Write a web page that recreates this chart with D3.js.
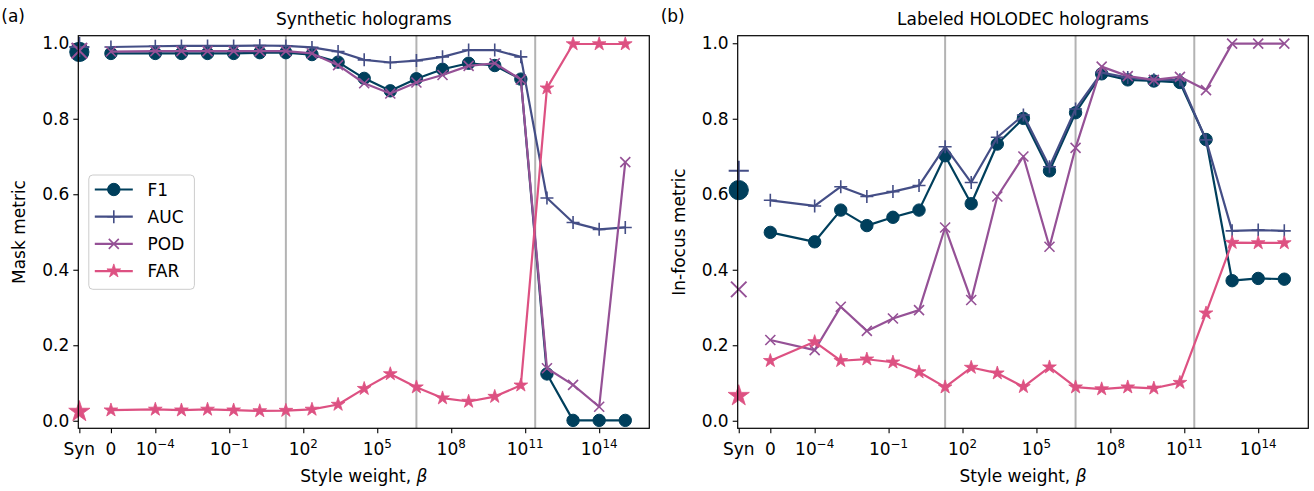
<!DOCTYPE html>
<html>
<head>
<meta charset="utf-8">
<script src="https://cdn.jsdelivr.net/npm/d3@7"></script>
<style>
  html, body { margin: 0; padding: 0; background: #fff; }
  svg { display: block; font-family: "DejaVu Sans", sans-serif; }
</style>
</head>
<body>
<svg id="chart" width="1314" height="491"></svg>
<script>
// ---------- data ----------
const betaCategories = ["0", "1e-4", "1e-3", "1e-2", "1e-1", "1e0", "1e1", "1e2", "1e3", "1e4",
  "1e5", "1e6", "1e7", "1e8", "1e9", "1e10", "1e11", "1e12", "1e13", "1e14"];
const seriesNames = ["F1", "AUC", "POD", "FAR"];
const seriesColors = ["#003f5c", "#444e86", "#955196", "#dd5182"];
const tickExponents = [-4, -1, 2, 5, 8, 11, 14];
const yTicks = [0.0, 0.2, 0.4, 0.6, 0.8, 1.0];

// Panel (a): synthetic holograms
const synA = { F1: 0.977, AUC: 0.990, POD: 0.980, FAR: 0.024 };
const a_F1  = [0.973, 0.973, 0.973, 0.973, 0.973, 0.975, 0.975, 0.970, 0.950, 0.907, 0.874, 0.906, 0.931, 0.947, 0.941, 0.905, 0.124, 0.001, 0.001, 0.001];
const a_AUC = [0.990, 0.992, 0.993, 0.993, 0.993, 0.994, 0.993, 0.989, 0.978, 0.956, 0.949, 0.954, 0.964, 0.982, 0.982, 0.964, 0.590, 0.525, 0.507, 0.512];
const a_POD = [0.978, 0.979, 0.979, 0.979, 0.979, 0.979, 0.979, 0.973, 0.942, 0.894, 0.867, 0.896, 0.916, 0.940, 0.947, 0.904, 0.139, 0.095, 0.037, 0.685];
const a_FAR = [0.028, 0.030, 0.028, 0.030, 0.028, 0.026, 0.027, 0.030, 0.043, 0.085, 0.124, 0.089, 0.060, 0.051, 0.064, 0.094, 0.881, 0.998, 0.998, 0.998];

// Panel (b): labeled HOLODEC holograms
const synB = { F1: 0.611, AUC: 0.662, POD: 0.348, FAR: 0.066 };
const b_F1  = [0.499, 0.474, 0.558, 0.517, 0.539, 0.558, 0.702, 0.575, 0.733, 0.801, 0.662, 0.816, 0.919, 0.903, 0.900, 0.896, 0.745, 0.371, 0.377, 0.375];
const b_AUC = [0.584, 0.569, 0.620, 0.594, 0.607, 0.623, 0.726, 0.631, 0.751, 0.810, 0.673, 0.826, 0.922, 0.909, 0.903, 0.903, 0.744, 0.503, 0.505, 0.503];
const b_POD = [0.214, 0.187, 0.302, 0.238, 0.271, 0.293, 0.512, 0.320, 0.594, 0.700, 0.461, 0.723, 0.938, 0.913, 0.903, 0.911, 0.876, 0.999, 0.999, 0.999];
const b_FAR = [0.159, 0.209, 0.159, 0.163, 0.155, 0.129, 0.089, 0.141, 0.126, 0.090, 0.142, 0.089, 0.084, 0.089, 0.086, 0.101, 0.285, 0.472, 0.471, 0.471];

// grey reference lines (in category-position units)
const refLinePositions = [6, 11, 15.55];

const panels = [
  { tag: "(a)", title: "Synthetic holograms", ylabel: "Mask metric",
    syn: synA, series: [a_F1, a_AUC, a_POD, a_FAR], legend: true,
    left: 78.3, right: 649.3 },
  { tag: "(b)", title: "Labeled HOLODEC holograms", ylabel: "In-focus metric",
    syn: synB, series: [b_F1, b_AUC, b_POD, b_FAR], legend: false,
    left: 737.7, right: 1308.3 }
];

// ---------- layout ----------
const TOP = 35.7, BOTTOM = 428.3;
const FONT = 17;
const SYN_POS = -1.91, ZERO_POS = -0.70;
const svg = d3.select("#chart");

// category index -> position
const catPos = i => (i === 0 ? ZERO_POS : i);
// tick label position for 10^k in the same units
const tickPosScale = d3.scaleLog().domain([1e-4, 1e14]).range([1, 18]);

function marker(g, type, color, scale) {
  const s = scale || 1;
  if (type === 0) {
    g.append("circle").attr("r", 6.2 * s).attr("fill", color).attr("stroke", color).attr("stroke-width", 1);
  } else if (type === 1) {
    const r = 6.5 * s;
    g.append("path").attr("d", `M${-r},0H${r}M0,${-r}V${r}`).attr("stroke", color)
      .attr("stroke-width", 1.6 * Math.sqrt(s)).attr("fill", "none");
  } else if (type === 2) {
    const r = 5.0 * s;
    g.append("path").attr("d", `M${-r},${-r}L${r},${r}M${-r},${r}L${r},${-r}`).attr("stroke", color)
      .attr("stroke-width", 1.6 * Math.sqrt(s)).attr("fill", "none");
  } else {
    const R = 7.2 * s;
    g.append("path").attr("d", d3.symbol(d3.symbolStar, R * R / 0.8908130915292852)())
      .attr("fill", color).attr("stroke", color).attr("stroke-width", 0.8).attr("stroke-linejoin", "round");
  }
}

function supLabel(sel, k) {
  sel.append("tspan").text("10");
  sel.append("tspan").text(k < 0 ? "\u2212" + Math.abs(k) : String(k))
    .attr("font-size", FONT * 0.7).attr("dy", -FONT * 0.42);
}

panels.forEach(p => {
  const x = d3.scaleLinear().domain([-1.95, 19.92]).range([p.left, p.right]);
  const y = d3.scaleLinear().domain([-0.02, 1.02]).range([BOTTOM, TOP]);
  const g = svg.append("g");

  // grey vertical lines
  g.selectAll("line.ref").data(refLinePositions).enter().append("line")
    .attr("x1", d => x(d)).attr("x2", d => x(d)).attr("y1", TOP).attr("y2", BOTTOM)
    .attr("stroke", "#b3b3b3").attr("stroke-width", 2);

  // y axis
  const yAxis = d3.axisLeft(y).tickValues(yTicks).tickFormat(d3.format(".1f")).tickSize(5).tickPadding(4);
  const ya = g.append("g").attr("transform", `translate(${p.left},0)`).call(yAxis);
  ya.select(".domain").remove();
  ya.selectAll("text").attr("font-size", FONT).attr("font-family", "DejaVu Sans").attr("fill", "#000");
  ya.selectAll("line").attr("stroke", "#000").attr("stroke-width", 1.1);

  // x axis ticks
  const xTickVals = [SYN_POS, ZERO_POS].concat(tickExponents.map(k => tickPosScale(Math.pow(10, k))));
  const xAxis = d3.axisBottom(x).tickValues(xTickVals).tickSize(5).tickFormat(() => "");
  const xa = g.append("g").attr("transform", `translate(0,${BOTTOM})`).call(xAxis);
  xa.select(".domain").remove();
  xa.selectAll("line").attr("stroke", "#000").attr("stroke-width", 1.1);
  const labY = BOTTOM + 27;
  g.append("text").attr("x", x(SYN_POS)).attr("y", labY).attr("text-anchor", "middle")
    .attr("font-size", FONT).text("Syn");
  g.append("text").attr("x", x(ZERO_POS)).attr("y", labY).attr("text-anchor", "middle")
    .attr("font-size", FONT).text("0");
  tickExponents.forEach(k => {
    const t = g.append("text").attr("x", x(tickPosScale(Math.pow(10, k)))).attr("y", labY)
      .attr("text-anchor", "middle").attr("font-size", FONT);
    supLabel(t, k);
  });

  // series lines + markers
  p.series.forEach((vals, si) => {
    const color = seriesColors[si];
    const line = d3.line().x((d, i) => x(catPos(i))).y(d => y(d));
    g.append("path").datum(vals).attr("d", line).attr("fill", "none")
      .attr("stroke", color).attr("stroke-width", 2.2).attr("stroke-linejoin", "round");
    vals.forEach((v, i) => {
      const mg = g.append("g").attr("transform", `translate(${x(catPos(i))},${y(v)})`);
      marker(mg, si, color, 1);
    });
  });
  // Syn markers (bigger, drawn per series order)
  seriesNames.forEach((name, si) => {
    const mg = g.append("g").attr("transform", `translate(${x(SYN_POS)},${y(p.syn[name])})`);
    marker(mg, si, seriesColors[si], 1.55);
  });

  // frame
  g.append("rect").attr("x", p.left).attr("y", TOP).attr("width", p.right - p.left)
    .attr("height", BOTTOM - TOP).attr("fill", "none").attr("stroke", "#000").attr("stroke-width", 1.2);

  // title, labels
  const cx = (p.left + p.right) / 2;
  g.append("text").attr("x", cx).attr("y", 25).attr("text-anchor", "middle")
    .attr("font-size", FONT).text(p.title);
  const xl = g.append("text").attr("x", cx).attr("y", 482).attr("text-anchor", "middle")
    .attr("font-size", FONT);
  xl.append("tspan").text("Style weight, ");
  xl.append("tspan").attr("font-style", "italic").text("\u03b2");
  g.append("text").attr("transform", `translate(${p.left - 53},${(TOP + BOTTOM) / 2}) rotate(-90)`)
    .attr("text-anchor", "middle").attr("font-size", FONT).text(p.ylabel);
  g.append("text").attr("x", p.left - 77).attr("y", 22).attr("font-size", FONT).text(p.tag);

  // legend
  if (p.legend) {
    const lx = 88.8, ly = 175, lw = 105.6, lh = 114.3;
    const lg = g.append("g");
    lg.append("rect").attr("x", lx).attr("y", ly).attr("width", lw).attr("height", lh)
      .attr("rx", 4).attr("fill", "#fff").attr("fill-opacity", 0.8)
      .attr("stroke", "#cccccc").attr("stroke-width", 1);
    seriesNames.forEach((name, si) => {
      const yy = ly + 14.5 + si * 27.2;
      lg.append("line").attr("x1", lx + 6).attr("x2", lx + 44).attr("y1", yy).attr("y2", yy)
        .attr("stroke", seriesColors[si]).attr("stroke-width", 2.2);
      const mg = lg.append("g").attr("transform", `translate(${lx + 25},${yy})`);
      marker(mg, si, seriesColors[si], 1);
      lg.append("text").attr("x", lx + 58.8).attr("y", yy + 6).attr("font-size", FONT).text(name);
    });
  }
});
</script>
</body>
</html>
